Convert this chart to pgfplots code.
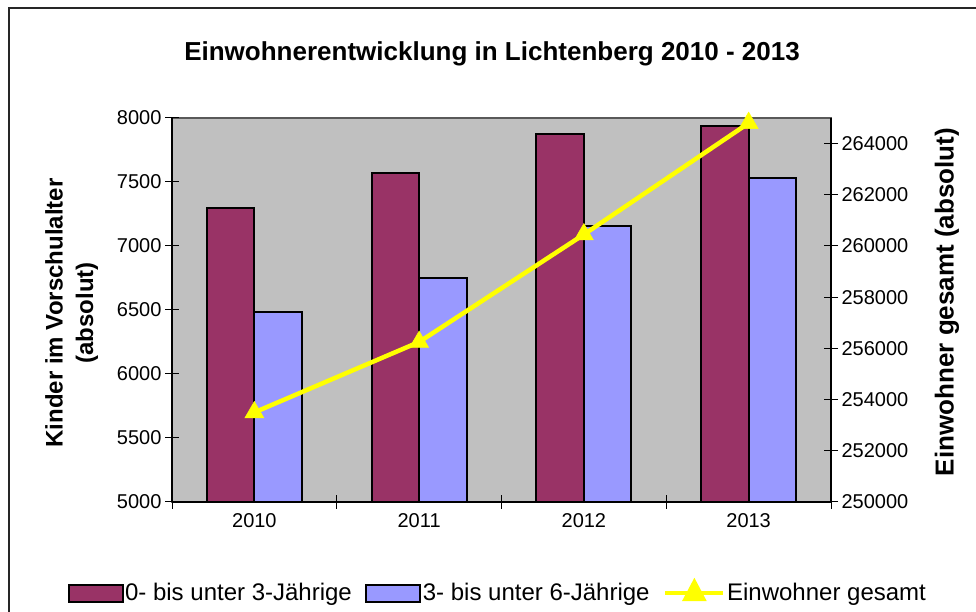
\documentclass[border=0pt]{standalone}
\usepackage{pgfplots}
\pgfplotsset{compat=1.18}
\usepackage{fontspec}
\setmainfont{Liberation Sans}
\definecolor{maroon}{HTML}{993366}
\definecolor{lblue}{HTML}{9999FF}
\definecolor{pgray}{HTML}{C0C0C0}
\definecolor{yel}{HTML}{FFFF00}

\begin{document}
\begin{tikzpicture}[x=1pt,y=1pt]
\useasboundingbox (0,0) rectangle (976,612);
\fill[white] (0,0) rectangle (976,612);
\draw[line width=2pt, black!85] (9,-10) -- (9,604) -- (990,604);

\begin{axis}[
  at={(172pt,110pt)}, anchor=south west,
  scale only axis, width=659pt, height=384pt,
  xmin=-0.5, xmax=3.5, ymin=5000, ymax=8000,
  axis y line*=left, axis x line*=bottom,
  axis background/.style={fill=pgray, draw=gray!70!black, line width=1.5pt},
  axis line style={black, line width=1.3pt},
  ytick={5000,5500,...,8000},
  xtick={-0.5,0.5,1.5,2.5,3.5}, xticklabels={},
  extra x ticks={0,1,2,3}, extra x tick labels={2010,2011,2012,2013},
  extra x tick style={major tick length=0pt, xticklabel style={yshift=-8pt}},
  tick align=center, major tick length=14pt,
  tick style={black, line width=1pt},
  ticklabel style={font=\fontsize{20}{24}\selectfont},
  scaled y ticks=false,
  /pgf/number format/.cd, fixed, precision=0, 1000 sep={}, assume math mode=true, /pgfplots/.cd,
  legend columns=3,
  legend style={at={(axis description cs:0.5,0)}, anchor=center, yshift=-90pt, xshift=-4pt,
    draw=none, fill=none, inner sep=0pt,
    font=\fontsize{24}{28}\selectfont,
    nodes={inner sep=1.5pt},
    /tikz/every even column/.append style={column sep=12pt}},
]
\addplot[ybar, bar width=47.5pt, bar shift=-23.75pt, fill=maroon, draw=black, line width=2pt,
  legend image code/.code={\draw[fill=maroon, draw=black, line width=2pt] (0pt,-8.5pt) rectangle (54pt,8.5pt);}]
  coordinates {(0,7300) (1,7570) (2,7875) (3,7940)};
\addlegendentry{0- bis unter 3-Jährige}
\addplot[ybar, bar width=47.5pt, bar shift=23.75pt, fill=lblue, draw=black, line width=2pt,
  legend image code/.code={\draw[fill=lblue, draw=black, line width=2pt] (0pt,-8.5pt) rectangle (54pt,8.5pt);}]
  coordinates {(0,6483) (1,6752) (2,7158) (3,7535)};
\addlegendentry{3- bis unter 6-Jährige}
\addlegendimage{yel, line width=4pt, mark=triangle*, mark size=10pt, mark options={line width=1pt},
  legend image code/.code={\draw[yel, line width=4.5pt] (0pt,0pt) -- (58pt,0pt);
    \fill[yel] (20pt,-6pt) -- (38pt,-6pt) -- (29pt,11pt) -- cycle;}}
\addlegendentry{Einwohner gesamt}
\end{axis}

\begin{axis}[
  at={(172pt,110pt)}, anchor=south west,
  scale only axis, width=659pt, height=384pt,
  xmin=-0.5, xmax=3.5, ymin=250000, ymax=265000,
  axis y line*=right, axis x line=none,
  axis line style={black, line width=1.3pt},
  ytick={250000,252000,...,264000},
  scaled y ticks=false,
  tick align=center, major tick length=14pt,
  tick style={black, line width=1pt},
  ticklabel style={font=\fontsize{20}{24}\selectfont},
  /pgf/number format/.cd, fixed, precision=0, 1000 sep={}, assume math mode=true, /pgfplots/.cd,
  clip=false,
]
\addplot[yel, line width=4.5pt, mark=triangle*, mark size=11pt, mark options={line width=0.5pt}]
  coordinates {(0,253500) (1,256250) (2,260450) (3,264800)};
\end{axis}

\node[font=\bfseries\fontsize{26}{30}\selectfont, anchor=base] at (492,551) {Einwohnerentwicklung in Lichtenberg 2010 - 2013};
\node[font=\bfseries\fontsize{24}{28}\selectfont, rotate=90] at (54,299) {Kinder im Vorschulalter};
\node[font=\bfseries\fontsize{24}{28}\selectfont, rotate=90] at (87,299) {(absolut)};
\node[font=\bfseries\fontsize{26}{30}\selectfont, rotate=90] at (947,310) {Einwohner gesamt (absolut)};
\end{tikzpicture}
\end{document}
